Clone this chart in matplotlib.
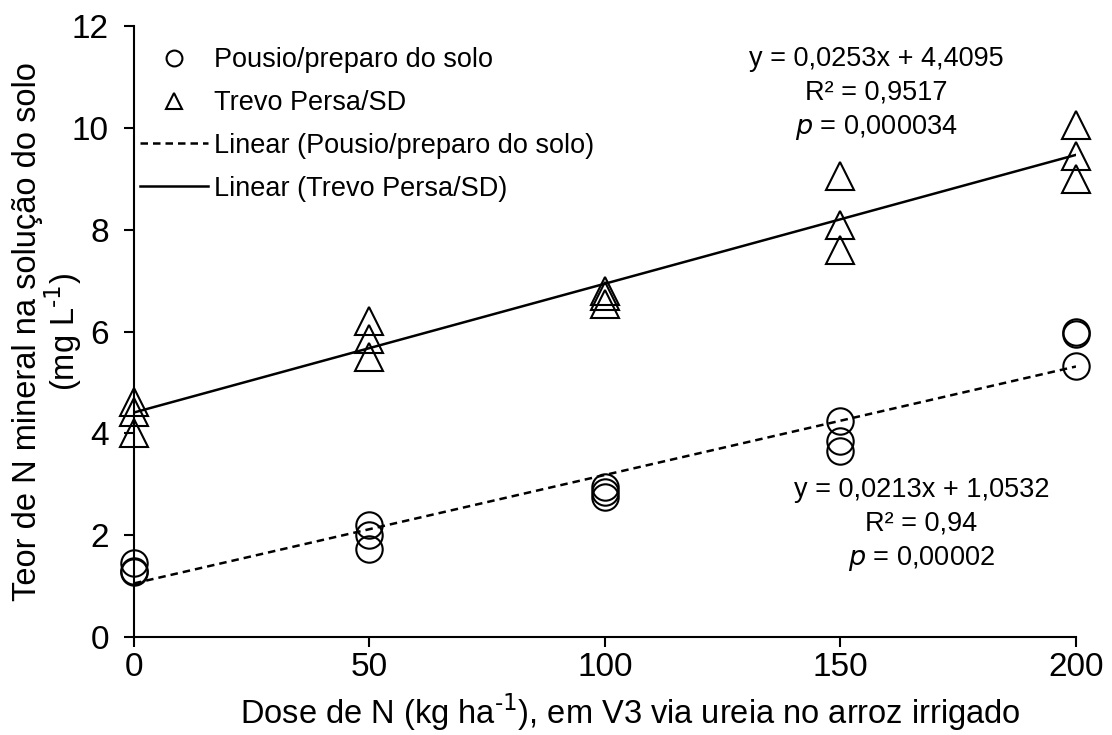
import matplotlib
matplotlib.use("Agg")
import matplotlib.pyplot as plt
import numpy as np

plt.rcParams['font.family'] = ['Liberation Sans', 'DejaVu Sans']
plt.rcParams['mathtext.default'] = 'regular'

# Data
doses = [0, 50, 100, 150, 200]
pousio = [[1.45, 1.30, 1.28], [2.20, 2.00, 1.72], [2.95, 2.85, 2.75], [4.25, 3.85, 3.65], [6.00, 5.95, 5.32]]
trevo = [[4.62, 4.42, 4.00], [6.20, 5.85, 5.50], [6.80, 6.70, 6.55], [9.05, 8.10, 7.60], [10.05, 9.45, 9.00]]
fit_pousio = (0.0213, 1.0532)
fit_trevo = (0.0253, 4.4095)
label_pousio = "Pousio/preparo do solo"
label_trevo = "Trevo Persa/SD"
eq_trevo = ["y = 0,0253x + 4,4095", "R² = 0,9517", "$\\it{p}$ = 0,000034"]
eq_pousio = ["y = 0,0213x + 1,0532", "R² = 0,94", "$\\it{p}$ = 0,00002"]
ylabel_lines = ["Teor de N mineral na solução do solo", "(mg L$^{\\text{-1}}$)"]

fig = plt.figure(figsize=(11.12, 7.35), dpi=100)
ax = fig.add_axes([0.1205, 0.1333, 0.8471, 0.8313])

xp = np.repeat(doses, 3)
ax.plot(xp, np.ravel(pousio), 'o', ms=19, mfc='none', mec='black', mew=1.5, label=label_pousio, clip_on=False, zorder=3)
ax.plot(xp, np.ravel(trevo), '^', ms=20, mfc='none', mec='black', mew=1.5, label=label_trevo, clip_on=False, zorder=3)

xl = np.array([doses[0], doses[-1]])
ax.plot(xl, fit_pousio[0]*xl + fit_pousio[1], '--', color='black', lw=1.8, dashes=(3, 2),
        label='Linear (' + label_pousio + ')')
ax.plot(xl, fit_trevo[0]*xl + fit_trevo[1], '-', color='black', lw=1.8,
        label='Linear (' + label_trevo + ')')

ax.set_xlim(0, 200)
ax.set_ylim(0, 12)
ax.set_xticks([0, 50, 100, 150, 200])
ax.set_yticks([0, 2, 4, 6, 8, 10, 12])
ax.spines['top'].set_visible(False)
ax.spines['right'].set_visible(False)
for s in ('left', 'bottom'):
    ax.spines[s].set_linewidth(1.5)
ax.tick_params(direction='out', length=7, width=1.5, labelsize=24)
ax.tick_params(axis='y', pad=11)
ax.tick_params(axis='x', pad=4)

ax.set_xlabel("Dose de N (kg ha$^{\\text{-1}}$), em V3 via ureia no arroz irrigado", fontsize=23.5)
ax.xaxis.set_label_coords(0.527, -0.09)

ycen = 0.549
fig.text(28/1112, ycen, ylabel_lines[0], rotation=90, ha='center', va='center', fontsize=23.5)
fig.text(63/1112, ycen, ylabel_lines[1], rotation=90, ha='center', va='center', fontsize=23.5)

leg = ax.legend(loc='upper left', bbox_to_anchor=(-0.019, 1.005), frameon=False, fontsize=19.5,
                markerscale=0.6, handlelength=2.5, handletextpad=0.2, labelspacing=0.62)

ax.text(0.788, 0.967, "\n".join(eq_trevo), transform=ax.transAxes, ha='center', va='top', fontsize=19.5, linespacing=1.36)
ax.text(0.836, 0.262, "\n".join(eq_pousio), transform=ax.transAxes, ha='center', va='top', fontsize=19.5, linespacing=1.36)

fig.savefig("out.png", dpi=100)
